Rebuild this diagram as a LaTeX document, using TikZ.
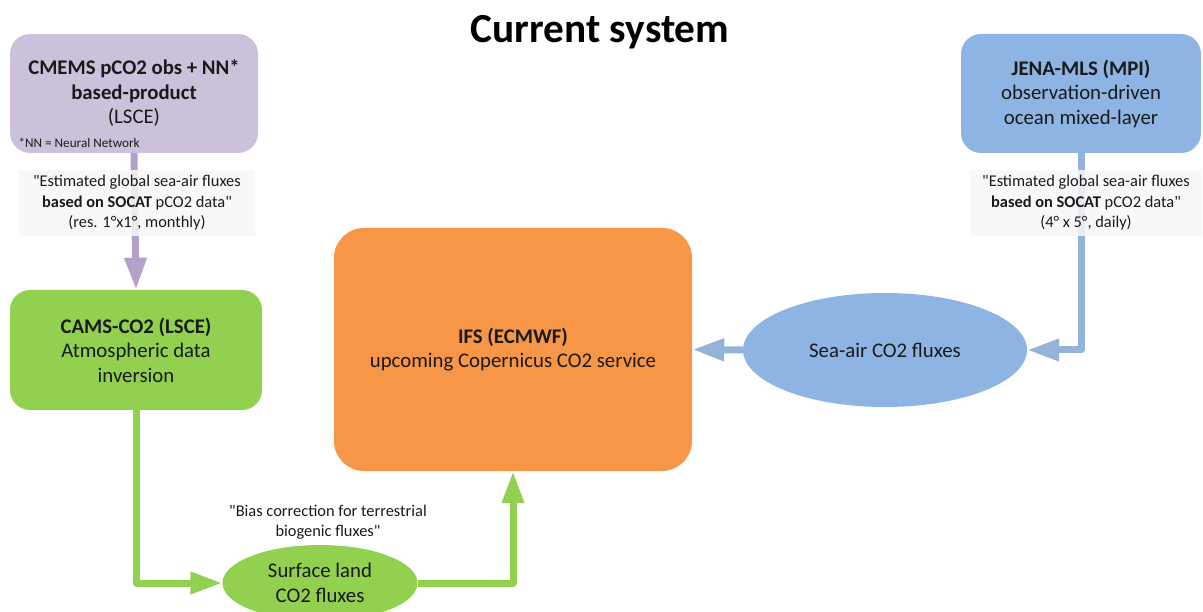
\documentclass[tikz,border=0pt]{standalone}
\usepackage{fontspec}
\setmainfont{Carlito}[Ligatures=TeXOff]
\usepackage{tikz}
\usetikzlibrary{arrows.meta,shapes.geometric,positioning}
\definecolor{lavender}{HTML}{CCC1DA}
\definecolor{lavarrow}{HTML}{B3A2C7}
\definecolor{leaf}{HTML}{92D050}
\definecolor{tangerine}{HTML}{F79646}
\definecolor{sky}{HTML}{8EB4E3}
\definecolor{skyarrow}{HTML}{95B3D7}
\definecolor{ink}{HTML}{1A1A1A}

\begin{document}
\begin{tikzpicture}[x=1pt,y=-1pt,
    boxtext/.style={font=\fontsize{20.8}{24.5}\selectfont, text=ink, align=center, inner sep=0pt},
    quote/.style={font=\fontsize{16.4}{20.5}\selectfont, text=ink, align=center},
    quotebg/.style={quote, fill=black!3, fill opacity=0.85, text opacity=1, inner sep=0pt},
    flow/.style={line width=7pt, line join=round, -{Triangle[length=32pt,width=21pt]}}]

    \useasboundingbox (0,0) rectangle (1203,612);

    \node [font=\fontsize{41.3}{48}\selectfont\bfseries, text=black, anchor=base] (title) at (600,43) {Current system};

    % sources
    \node [boxtext, fill=lavender, rounded corners=20pt, minimum width=248pt, minimum height=119pt] (cmems) at (134,93.5)
        {\textbf{CMEMS pCO2 obs + NN*}\\\textbf{based-product}\\(LSCE)};
    \node [anchor=west, font=\fontsize{13.2}{15}\selectfont, text=ink] (nnote) at (15,143) {*NN = Neural Network};
    \node [boxtext, fill=sky, rounded corners=20pt, minimum width=240pt, minimum height=119pt] (jena) at (1081,93.5)
        {\textbf{JENA-MLS (MPI)}\\observation-driven\\ocean mixed-layer};

    \node [boxtext, fill=leaf, rounded corners=20pt, minimum width=252pt, minimum height=120pt] (cams) at (136,350)
        {\textbf{CAMS-CO2 (LSCE)}\\Atmospheric data\\inversion};
    \node [boxtext, fill=tangerine, rounded corners=30pt, minimum width=358pt, minimum height=243pt] (ifs) at (513,349.5)
        {\textbf{IFS (ECMWF)}\\upcoming Copernicus CO2 service};

    % fluxes
    \node [boxtext, ellipse, fill=sky, minimum width=284pt, minimum height=114pt] (sea) at (885,350) {Sea-air CO2 fluxes};
    \node [boxtext, ellipse, fill=leaf, minimum width=195pt, minimum height=76pt] (land) at (320,583) {Surface land\\CO2 fluxes};

    % connectors
    \draw [flow, lavarrow] (cmems.south) -- (cams.north);
    \draw [flow, skyarrow] (jena.south) |- (sea.east);
    \draw [flow, skyarrow] (sea.west) -- (ifs.east);
    \draw [flow, leaf] (cams.south) |- (land.west);
    \draw [flow, leaf] (land.east) -| (ifs.south);

    \node [quotebg, minimum width=236pt, minimum height=66pt] (cmemsquote) at (137,203)
        {"Estimated global sea-air fluxes\\\textbf{based on SOCAT} pCO2 data"\\(res. 1°x1°, monthly)};
    \node [quotebg, minimum width=232pt, minimum height=66pt] (jenaquote) at (1086,203)
        {"Estimated global sea-air fluxes\\\textbf{based on SOCAT} pCO2 data"\\(4° x 5°, daily)};
    \node [quote] (biasquote) at (328,522) {"Bias correction for terrestrial\\biogenic fluxes"};
\end{tikzpicture}
\end{document}
